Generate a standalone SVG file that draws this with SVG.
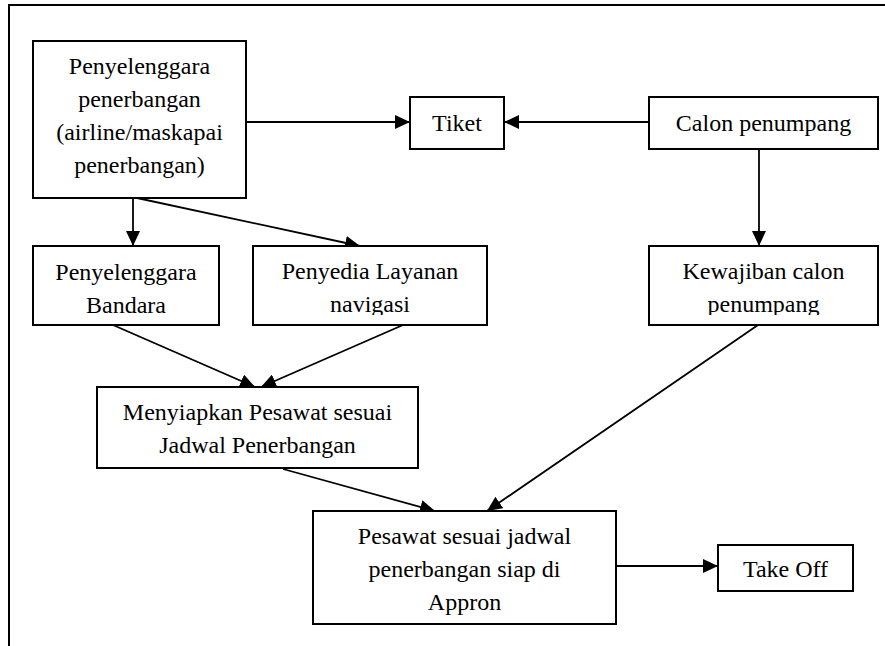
<svg xmlns="http://www.w3.org/2000/svg" width="885" height="646" viewBox="0 0 885 646">
<style>
.box{fill:#fff;stroke:#000;stroke-width:2}
.t{font-family:"Liberation Serif","Times New Roman",serif;font-size:24px;fill:#000;text-anchor:middle}
.c{stroke:#000;stroke-width:1.8;fill:none;marker-end:url(#ah)}
.frame{stroke:#000;stroke-width:2;fill:none}
</style>
<defs>
<marker id="ah" markerUnits="userSpaceOnUse" markerWidth="16" markerHeight="14" refX="15" refY="7" orient="auto">
<path d="M0,0 L15,7 L0,14 Z" fill="#000"/>
</marker>
<clipPath id="clipRow"><rect x="0" y="0" width="885" height="315"/></clipPath>
</defs>
<rect width="885" height="646" fill="#fff"/>
<path class="frame" d="M9,646 L9,5 L885,5"/>
<g id="connectors">
<line class="c" x1="246" y1="122" x2="410" y2="122"/>
<line class="c" x1="649" y1="122" x2="504" y2="122"/>
<line class="c" x1="133" y1="198" x2="133" y2="246"/>
<line class="c" x1="137" y1="198" x2="360" y2="246"/>
<line class="c" x1="759" y1="149" x2="759" y2="246"/>
<line class="c" x1="113" y1="325" x2="255" y2="387"/>
<line class="c" x1="403" y1="325" x2="261" y2="387"/>
<line class="c" x1="758" y1="325" x2="487" y2="511"/>
<line class="c" x1="283" y1="469" x2="435" y2="511"/>
<line class="c" x1="616" y1="566" x2="718" y2="566"/>
</g>
<g id="airline">
<rect class="box" x="33" y="41" width="213" height="157"/>
<text class="t" x="139.5" y="74">Penyelenggara</text>
<text class="t" x="139.5" y="107">penerbangan</text>
<text class="t" x="139.5" y="140">(airline/maskapai</text>
<text class="t" x="139.5" y="173">penerbangan)</text>
</g>
<g id="tiket">
<rect class="box" x="410" y="97" width="94" height="52"/>
<text class="t" x="457" y="131">Tiket</text>
</g>
<g id="calon">
<rect class="box" x="649" y="97" width="229" height="52"/>
<text class="t" x="763.5" y="131">Calon penumpang</text>
</g>
<g id="bandara">
<rect class="box" x="33" y="246" width="186" height="79"/>
<text class="t" x="126" y="280">Penyelenggara</text>
<text class="t" x="126" y="313">Bandara</text>
</g>
<g id="navigasi">
<rect class="box" x="253" y="246" width="234" height="79"/>
<g clip-path="url(#clipRow)">
<text class="t" x="370" y="279">Penyedia Layanan</text>
<text class="t" x="370" y="312">navigasi</text>
</g>
</g>
<g id="kewajiban">
<rect class="box" x="649" y="246" width="229" height="79"/>
<g clip-path="url(#clipRow)">
<text class="t" x="763.5" y="279">Kewajiban calon</text>
<text class="t" x="763.5" y="312">penumpang</text>
</g>
</g>
<g id="menyiapkan">
<rect class="box" x="97" y="387" width="321" height="81"/>
<text class="t" x="257.5" y="420">Menyiapkan Pesawat sesuai</text>
<text class="t" x="257.5" y="453">Jadwal Penerbangan</text>
</g>
<g id="pesawat">
<rect class="box" x="313" y="511" width="303" height="113"/>
<text class="t" x="464.5" y="544">Pesawat sesuai jadwal</text>
<text class="t" x="464.5" y="577">penerbangan siap di</text>
<text class="t" x="464.5" y="610">Appron</text>
</g>
<g id="takeoff">
<rect class="box" x="718" y="545" width="135" height="46"/>
<text class="t" x="785.5" y="577">Take Off</text>
</g>
</svg>
